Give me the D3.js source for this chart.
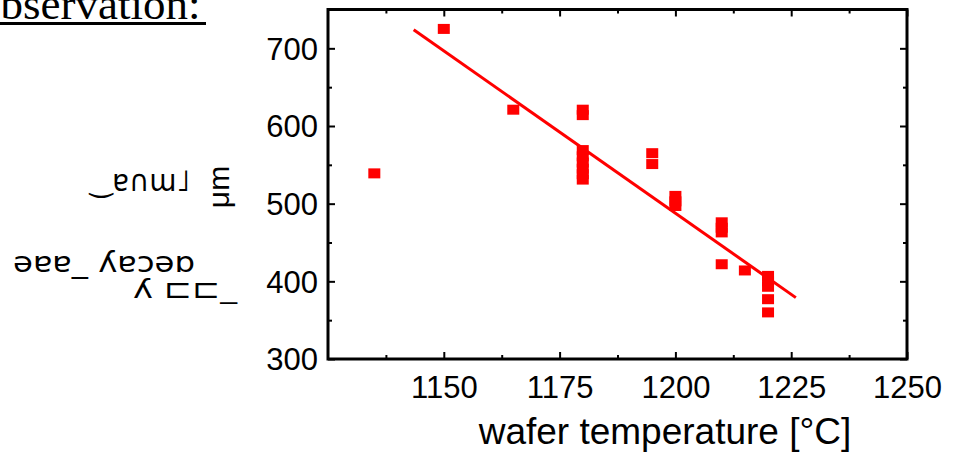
<!DOCTYPE html>
<html>
<head>
<meta charset="utf-8">
<script src="https://cdn.jsdelivr.net/npm/d3@7"></script>
<style>
  html, body { margin: 0; padding: 0; background: #fff; overflow: hidden; }
  svg { display: block; }
</style>
</head>
<body>
<svg id="chart" width="962" height="453"></svg>
<script>
// ---- data ----
const temperature = [1135, 1150, 1165,
  1180, 1180, 1180, 1180, 1180, 1180, 1180, 1180,
  1195, 1195,
  1200, 1200, 1200,
  1210, 1210, 1210, 1210,
  1215,
  1220, 1220, 1220, 1220, 1220];
const thickness = [539, 725, 621,
  621, 614, 569, 561, 553, 545, 538, 531,
  565, 551,
  510, 503, 497,
  476, 469, 463, 422,
  414,
  407, 400, 393, 377, 360];
const fitX = [1143.5, 1226];
const fitY = [724, 379];
const xMajorTicks = [1150, 1175, 1200, 1225, 1250];
const xMinorTicks = [1137.5, 1162.5, 1187.5, 1212.5, 1237.5];
const yMajorTicks = [300, 400, 500, 600, 700];
const yMinorTicks = [350, 450, 550, 650];
const xTitle = "wafer temperature [°C]";
const headText = "observation:";

// ---- drawing ----
const svg = d3.select("#chart");
const pLeft = 328, pRight = 907, pTop = 9.5, pBottom = 359;
const x = d3.scaleLinear().domain([1125, 1250]).range([pLeft, pRight]);
const y = d3.scaleLinear().domain([300, 750]).range([pBottom, pTop]);
const sans = "'Liberation Sans', Arial, Helvetica, sans-serif";
const red = "#ff0000";

// heading fragment at top-left
svg.append("text")
  .attr("x", -22).attr("y", 19)
  .attr("font-family", "'Liberation Serif', 'Times New Roman', serif")
  .attr("font-size", 45).attr("fill", "#000")
  .text(headText);
svg.append("line")
  .attr("x1", 0).attr("x2", 206).attr("y1", 23.5).attr("y2", 23.5)
  .attr("stroke", "#000").attr("stroke-width", 3);

// garbled rotated y-axis title, as in the reference
const glyph = svg.append("g").attr("fill", "#000").attr("font-family", "'DejaVu Sans', sans-serif");
glyph.append("text").attr("x", 90).attr("y", 191).attr("font-size", 30)
  .attr("textLength", 100).attr("lengthAdjust", "spacingAndGlyphs").text("‿ɐ∩ɯ˩");
glyph.append("text").attr("transform", "translate(229,187) rotate(-90)")
  .attr("text-anchor", "middle").attr("font-family", sans).attr("font-size", 30).text("μm");
glyph.append("text").attr("x", 13).attr("y", 272).attr("font-size", 28)
  .attr("textLength", 182).attr("lengthAdjust", "spacingAndGlyphs").text("ǝɐɐ_ ʎɐɔǝɒ");
glyph.append("text").attr("x", 133).attr("y", 298).attr("font-size", 26)
  .attr("textLength", 104).attr("lengthAdjust", "spacingAndGlyphs").text("ʎ ⊏⊏_");

// axes (ticks point inwards on all four sides)
function styleAxis(g) {
  g.select(".domain").remove();
  g.selectAll(".tick line").attr("stroke", "#000").attr("stroke-width", 2);
}
svg.append("g").attr("transform", `translate(0,${pBottom})`)
  .call(d3.axisBottom(x).tickValues(xMajorTicks).tickSize(-7).tickFormat(d3.format("d")))
  .call(styleAxis)
  .call(g => g.selectAll("text").attr("y", 39).attr("dy", 0)
    .attr("font-family", sans).attr("font-size", 31).attr("fill", "#000"));
svg.append("g").attr("transform", `translate(0,${pBottom})`)
  .call(d3.axisBottom(x).tickValues(xMinorTicks).tickSize(-4).tickFormat(""))
  .call(styleAxis);
svg.append("g").attr("transform", `translate(0,${pTop})`)
  .call(d3.axisTop(x).tickValues(xMajorTicks).tickSize(-7).tickFormat(""))
  .call(styleAxis);
svg.append("g").attr("transform", `translate(0,${pTop})`)
  .call(d3.axisTop(x).tickValues(xMinorTicks).tickSize(-4).tickFormat(""))
  .call(styleAxis);
svg.append("g").attr("transform", `translate(${pLeft},0)`)
  .call(d3.axisLeft(y).tickValues(yMajorTicks).tickSize(-7).tickPadding(10).tickFormat(d3.format("d")))
  .call(styleAxis)
  .call(g => g.selectAll("text").attr("font-family", sans).attr("font-size", 31).attr("fill", "#000").attr("dy", "0.35em"));
svg.append("g").attr("transform", `translate(${pLeft},0)`)
  .call(d3.axisLeft(y).tickValues(yMinorTicks).tickSize(-4).tickFormat(""))
  .call(styleAxis);
svg.append("g").attr("transform", `translate(${pRight},0)`)
  .call(d3.axisRight(y).tickValues(yMajorTicks).tickSize(-7).tickFormat(""))
  .call(styleAxis);
svg.append("g").attr("transform", `translate(${pRight},0)`)
  .call(d3.axisRight(y).tickValues(yMinorTicks).tickSize(-4).tickFormat(""))
  .call(styleAxis);

// frame
svg.append("rect")
  .attr("x", pLeft).attr("y", pTop).attr("width", pRight - pLeft).attr("height", pBottom - pTop)
  .attr("fill", "none").attr("stroke", "#000").attr("stroke-width", 3);

// x title
svg.append("text")
  .attr("x", 665).attr("y", 444).attr("text-anchor", "middle")
  .attr("font-family", sans).attr("font-size", 37).attr("fill", "#000")
  .text(xTitle);

// fit line
svg.append("path")
  .datum(fitX.map((d, i) => [d, fitY[i]]))
  .attr("d", d3.line().x(d => x(d[0])).y(d => y(d[1])))
  .attr("stroke", red).attr("stroke-width", 3).attr("fill", "none");

// data squares
const pts = temperature.map((t, i) => ({ t, v: thickness[i] }));
svg.append("g").selectAll("rect").data(pts).join("rect")
  .attr("x", d => x(d.t) - 6).attr("y", d => y(d.v) - 5)
  .attr("width", 12).attr("height", 10)
  .attr("fill", red);
</script>
</body>
</html>
